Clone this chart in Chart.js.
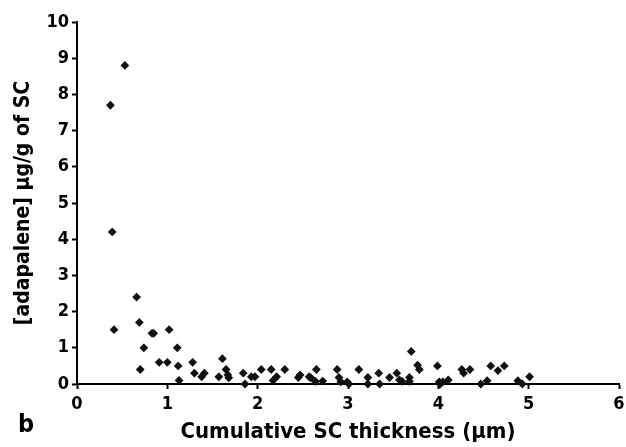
<!DOCTYPE html>
<html>
<head>
<meta charset="utf-8">
<script src="https://cdn.jsdelivr.net/npm/chart.js@4/dist/chart.umd.min.js"></script>
<style>
  html, body { margin: 0; padding: 0; background: #fff; }
  #wrap { width: 626px; height: 447px; position: relative; }
</style>
</head>
<body>
<div id="wrap"><canvas id="mychart" width="626" height="447"></canvas></div>
<script>
// cumulative SC thickness (um) and adapalene amount (ug/g of SC)
const thickness = [
  0.37, 0.53, 0.39, 0.41, 0.66, 0.69, 0.70, 0.74, 0.83, 0.85,
  0.91, 1.00, 1.02, 1.11, 1.12, 1.13, 1.28, 1.30, 1.38, 1.41,
  1.57, 1.61, 1.65, 1.67, 1.68, 1.84, 1.86, 1.93, 1.97, 2.04,
  2.15, 2.17, 2.21, 2.30, 2.45, 2.47, 2.57, 2.59, 2.65, 2.64,
  2.72, 2.88, 2.90, 2.92, 2.99, 3.01, 3.12, 3.22, 3.22, 3.34,
  3.35, 3.46, 3.54, 3.57, 3.60, 3.68, 3.68, 3.70, 3.77, 3.79,
  3.99, 4.01, 4.02, 4.05, 4.11, 4.26, 4.28, 4.35, 4.47, 4.54,
  4.58, 4.66, 4.73, 4.88, 4.93, 5.01
];
const adapalene = [
  7.7, 8.8, 4.2, 1.5, 2.4, 1.7, 0.4, 1.0, 1.4, 1.4,
  0.6, 0.6, 1.5, 1.0, 0.5, 0.1, 0.6, 0.3, 0.2, 0.3,
  0.2, 0.7, 0.4, 0.25, 0.17, 0.3, 0.0, 0.2, 0.2, 0.4,
  0.4, 0.1, 0.2, 0.4, 0.18, 0.25, 0.2, 0.17, 0.4, 0.07,
  0.08, 0.4, 0.18, 0.06, 0.06, 0.0, 0.4, 0.18, 0.0, 0.3,
  0.0, 0.18, 0.3, 0.11, 0.07, 0.18, 0.07, 0.9, 0.52, 0.4,
  0.5, 0.06, 0.0, 0.06, 0.11, 0.4, 0.3, 0.4, 0.0, 0.09,
  0.5, 0.37, 0.5, 0.09, 0.0, 0.2
];
const xTicks = [0, 1, 2, 3, 4, 5, 6];
const yTicks = [0, 1, 2, 3, 4, 5, 6, 7, 8, 9, 10];
const xTitle = "Cumulative SC thickness (\u00b5m)";
const yTitle = "[adapalene] \u00b5g/g of SC";
const panelLetter = "b";

const FONT = "'Liberation Sans Narrow', 'DejaVu Sans Condensed', 'Liberation Sans', Arial, sans-serif";

const points = thickness.map((x, i) => ({ x: x, y: adapalene[i] }));

// draws the panel letter in the bottom left corner
const letterPlugin = {
  id: "letter",
  afterDraw(chart) {
    const ctx = chart.ctx;
    ctx.save();
    ctx.fillStyle = "#000";
    ctx.font = "bold 25px " + FONT;
    ctx.textAlign = "center";
    ctx.textBaseline = "alphabetic";
    ctx.fillText(panelLetter, 26, 432);
    ctx.restore();
  }
};

const ctx = document.getElementById("mychart").getContext("2d");
const myChart = new Chart(ctx, {
  type: "scatter",
  data: {
    datasets: [{
      data: points,
      pointStyle: "rectRot",
      pointRadius: 4.4,
      pointHoverRadius: 4.4,
      backgroundColor: "#111",
      borderColor: "#111",
      borderWidth: 0,
      clip: false
    }]
  },
  options: {
    responsive: false,
    animation: false,
    events: [],
    layout: { padding: { top: 22, right: 7, left: 0, bottom: 0 } },
    plugins: { legend: { display: false }, tooltip: { enabled: false } },
    scales: {
      x: {
        type: "linear",
        min: 0, max: 6,
        afterBuildTicks: (s) => { s.ticks = xTicks.map(v => ({ value: v })); },
        afterFit: (s) => { s.height = 63; s.paddingRight = 0; s.paddingLeft = 0; },
        grid: { drawOnChartArea: false, tickLength: 5, tickWidth: 2, color: "#000" },
        border: { color: "#000", width: 2 },
        ticks: { color: "#000", padding: 5, maxRotation: 0, font: { family: FONT, size: 18, weight: "bold" } },
        title: { display: true, text: xTitle, color: "#000", padding: { top: 0, bottom: 2 },
                 font: { family: FONT, size: 22, weight: "bold" } }
      },
      y: {
        type: "linear",
        min: 0, max: 10,
        afterBuildTicks: (s) => { s.ticks = yTicks.map(v => ({ value: v })); },
        afterFit: (s) => { s.width = 77; },
        grid: { drawOnChartArea: false, tickLength: 5, tickWidth: 2, color: "#000" },
        border: { color: "#000", width: 2 },
        ticks: { color: "#000", padding: 3, font: { family: FONT, size: 18, weight: "bold" } },
        title: { display: true, text: yTitle, color: "#000", padding: { top: 11, bottom: 0 },
                 font: { family: FONT, size: 21, weight: "bold" } }
      }
    }
  },
  plugins: [letterPlugin]
});
</script>
</body>
</html>
